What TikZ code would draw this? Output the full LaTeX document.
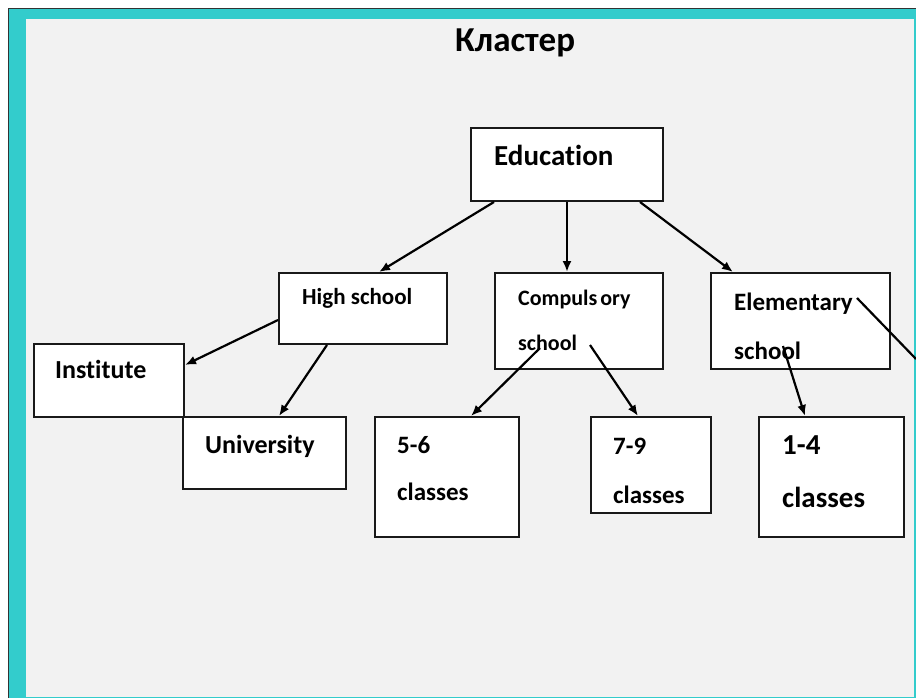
\documentclass[tikz,border=0pt]{standalone}
\usepackage{fontspec}
\setmainfont{Carlito}[Ligatures=NoCommon]
\usetikzlibrary{arrows.meta}

\definecolor{frameteal}{RGB}{51,204,204}
\definecolor{slidegray}{RGB}{242,242,242}

\tikzset{
	box/.style={draw=black!90, line width=2pt, fill=white, inner sep=0pt},
	lbl/.style={anchor=base west, inner sep=0pt},
	conn/.style={draw=black, line width=2.2pt},
	>={Latex[length=11pt,width=9pt]}
}
\newcommand{\fsz}[1]{\bfseries\fontsize{#1}{#1}\selectfont}

\begin{document}
\begin{tikzpicture}[x=1pt,y=-1pt]
		\useasboundingbox (0,0) rectangle (916,698);
		% slide frame
		\fill[white] (0,0) rectangle (916,698);
		\fill[frameteal] (9,9) rectangle (916,698);
		\draw[black!80, line width=1.4pt] (8.5,698) -- (8.5,8.5) -- (916,8.5);
		\fill[slidegray] (26,19) rectangle (914,697);
		
		\node[lbl, font=\fsz{35}] (title) at (455,52) {Кластер};
		
		\begin{scope}[every node/.style={box}]
			\node[minimum width=192, minimum height=73] (edu) at (567,164.5) {};
			\node[minimum width=168, minimum height=71] (hs) at (363,308.5) {};
			\node[minimum width=168, minimum height=96] (comp) at (579,321) {};
			\node[minimum width=179, minimum height=96] (elem) at (800.5,321) {};
			\node[minimum width=150, minimum height=73] (inst) at (109,380.5) {};
			\node[minimum width=163, minimum height=72] (univ) at (264.5,453) {};
			\node[minimum width=144, minimum height=120] (c56) at (447,477) {};
			\node[minimum width=120, minimum height=96] (c79) at (651,465) {};
			\node[minimum width=145, minimum height=120] (c14) at (831.5,477) {};
		\end{scope}
		
		% box texts
		\node[lbl, font=\fsz{29}] (edu-t) at (494,166) {Education};
		\node[lbl, font=\fsz{23}] (hs-t) at (302,304) {High school};
		\node[lbl, font=\fsz{22}] (comp-t) at (518,305) {Compuls\kern3pt ory};
		\node[lbl, font=\fsz{22}] (comp-b) at (518,350) {school};
		\node[lbl, font=\fsz{25}] (elem-t) at (734,310) {Elementary};
		\node[lbl, font=\fsz{25}] (elem-b) at (734,359) {school};
		\node[lbl, font=\fsz{26}] (inst-t) at (55,378) {Institute};
		\node[lbl, font=\fsz{26}] (univ-t) at (205,453) {University};
		\node[lbl, font=\fsz{25}] (c56-t) at (397,453) {5-6};
		\node[lbl, font=\fsz{25}] (c56-b) at (397,500) {classes};
		\node[lbl, font=\fsz{25}] (c79-t) at (613,454) {7-9};
		\node[lbl, font=\fsz{25}] (c79-b) at (613,503) {classes};
		\node[lbl, font=\fsz{29}] (c14-t) at (782,454) {1-4};
		\node[lbl, font=\fsz{29}] (c14-b) at (782,507) {classes};
		
		\coordinate (edge-r) at (916,359);
		
		\draw[conn, ->] ([xshift=24]edu.south west) -- ([xshift=101]hs.north west);
		\draw[conn, ->] (edu.south) -- (edu.south |- comp.north);
		\draw[conn, ->] ([xshift=-24]edu.south east) -- ([xshift=23]elem.north west);
		\draw[conn, ->] ([yshift=-48]hs.north west) -- ([yshift=-22]inst.north east);
		\draw[conn, ->] ([xshift=49]hs.south west) -- ([xshift=97]univ.north west);
		\draw[conn, ->] ([xshift=46,yshift=22]comp.south west) -- ([xshift=97]c56.north west);
		\draw[conn, ->] ([xshift=96,yshift=25]comp.south west) -- ([xshift=48]c79.north west);
		\draw[conn, ->] ([xshift=73,yshift=24]elem.south west) -- ([xshift=47]c14.north west);
		\draw[conn] ([xshift=147,yshift=-26]elem.north west) -- (edge-r);
\end{tikzpicture}
\end{document}
